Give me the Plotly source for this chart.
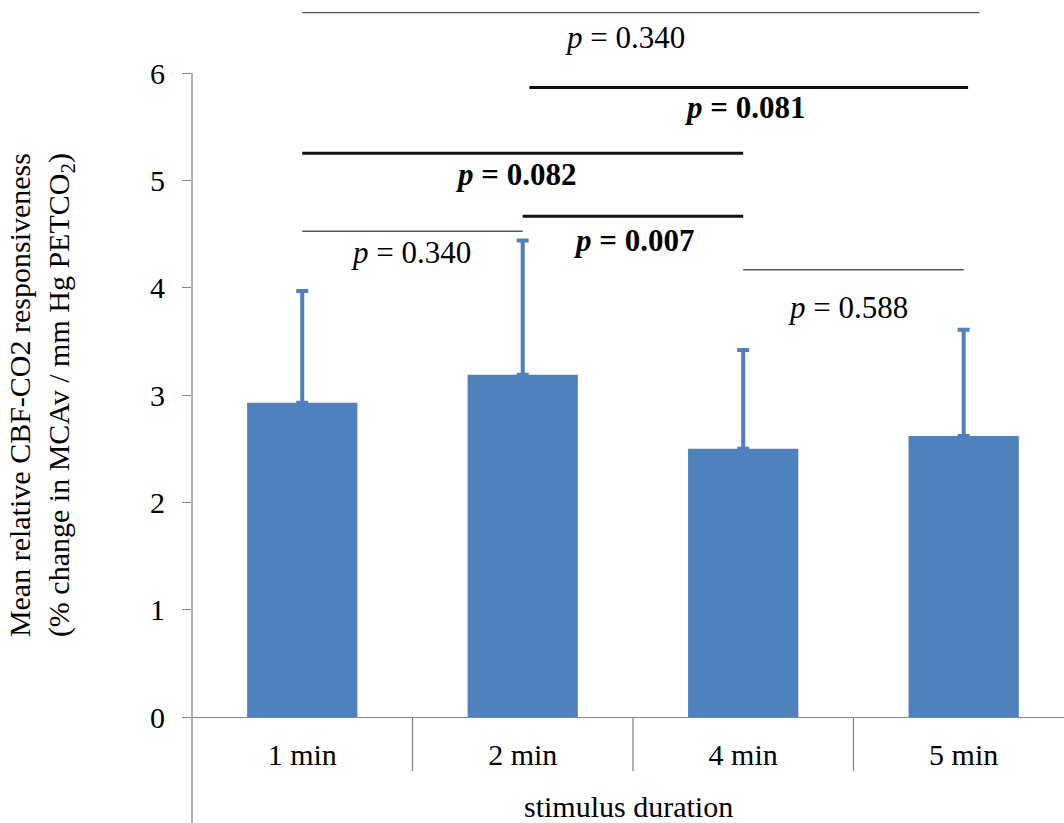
import plotly.graph_objects as go

# ---- data ----
categories = ["1 min", "2 min", "4 min", "5 min"]
mean_response = [2.93, 3.19, 2.50, 2.62]
sd_upper = [1.04, 1.25, 0.92, 0.99]

# significance brackets: (start x, end x, line y, label x, label y, text, bold)
bracket_x0 = [0.0, 1.03, 0.0, 0.0, 1.0, 2.0]
bracket_x1 = [3.07, 3.02, 2.0, 1.0, 2.0, 3.0]
bracket_y = [6.565, 5.867, 5.254, 4.527, 4.667, 4.168]
label_x = [1.464, 2.008, 0.965, 0.493, 1.504, 2.475]
label_y = [6.33, 5.68, 5.056, 4.33, 4.44, 3.816]
p_values = ["0.340", "0.081", "0.082", "0.340", "0.007", "0.588"]
p_bold = [False, True, True, False, True, False]

y_ticks = [0, 1, 2, 3, 4, 5, 6]

BLUE = "#4F81BD"
AXIS_GREY = "#898989"
FONT = "Liberation Serif"

Y_MAX = 6.636
X_RANGE = [-0.5, 3.455]
PLOT_H = 712
PLOT_W = 872

fig = go.Figure()
fig.add_trace(go.Bar(
    x=list(range(len(categories))),
    y=mean_response,
    marker=dict(color=BLUE, line=dict(width=0)),
    width=0.5,
    error_y=dict(type="data", symmetric=False, array=sd_upper,
                 arrayminus=[0] * len(sd_upper),
                 color=BLUE, thickness=4, width=6),
    showlegend=False,
    hoverinfo="skip",
))

shapes = []
annotations = []

# y axis line (from 6 down past the bottom of the chart)
shapes.append(dict(type="line", xref="paper", yref="paper",
                   x0=0, x1=0, y0=max(y_ticks) / Y_MAX, y1=-0.2,
                   line=dict(color=AXIS_GREY, width=1.3)))
# category separators below x axis
sep_len = 54 / PLOT_H
for i in range(len(categories) - 1):
    shapes.append(dict(type="line", xref="x", yref="paper",
                       x0=i + 0.5, x1=i + 0.5, y0=0, y1=-sep_len,
                       line=dict(color=AXIS_GREY, width=1.3)))

for x0, x1, y, lx, ly, p, b in zip(bracket_x0, bracket_x1, bracket_y,
                                    label_x, label_y, p_values, p_bold):
    shapes.append(dict(type="line", xref="x", yref="y",
                       x0=x0, x1=x1, y0=y, y1=y,
                       line=dict(color="#111111" if b else "#555555",
                                 width=3 if b else 1.4)))
    if b:
        txt = f"<b><i>p</i> = {p}</b>"
    else:
        txt = f"<i>p</i> = {p}"
    annotations.append(dict(x=lx, y=ly, xref="x", yref="y", text=txt,
                            showarrow=False, xanchor="center", yanchor="middle",
                            font=dict(family=FONT, size=31, color="black")))

# y axis title
annotations.append(dict(
    xref="paper", yref="y", x=(41 - 192) / PLOT_W, y=3,
    text="Mean relative CBF-CO2 responsiveness<br>(% change in MCAv / mm Hg PETCO<sub>2</sub>)",
    textangle=-90, showarrow=False, xanchor="center", yanchor="middle",
    font=dict(family=FONT, size=30, color="black")))
# x axis title
annotations.append(dict(
    xref="paper", yref="paper", x=0.5, y=-(806 - 716.5) / PLOT_H,
    text="stimulus duration", showarrow=False,
    xanchor="center", yanchor="middle",
    font=dict(family=FONT, size=30, color="black")))

fig.update_layout(
    width=1064, height=823,
    margin=dict(l=192, r=0, t=5, b=106),
    plot_bgcolor="white", paper_bgcolor="white",
    shapes=shapes, annotations=annotations,
    xaxis=dict(
        range=X_RANGE,
        tickmode="array", tickvals=list(range(len(categories))),
        ticktext=categories,
        showline=True, linecolor=AXIS_GREY, linewidth=1.3,
        showgrid=False, zeroline=False, ticks="",
        ticklabelstandoff=11,
        tickfont=dict(family=FONT, size=30, color="black"),
    ),
    yaxis=dict(
        range=[0, Y_MAX],
        tickmode="array", tickvals=y_ticks,
        showline=False, showgrid=False, zeroline=False,
        ticks="outside", ticklen=9, tickcolor=AXIS_GREY, tickwidth=1.3,
        ticklabelstandoff=11,
        tickfont=dict(family=FONT, size=30, color="black"),
    ),
    bargap=0.5,
)

fig.write_html("out.html", config={"displayModeBar": False},
               post_script="document.body.style.margin='0';")
